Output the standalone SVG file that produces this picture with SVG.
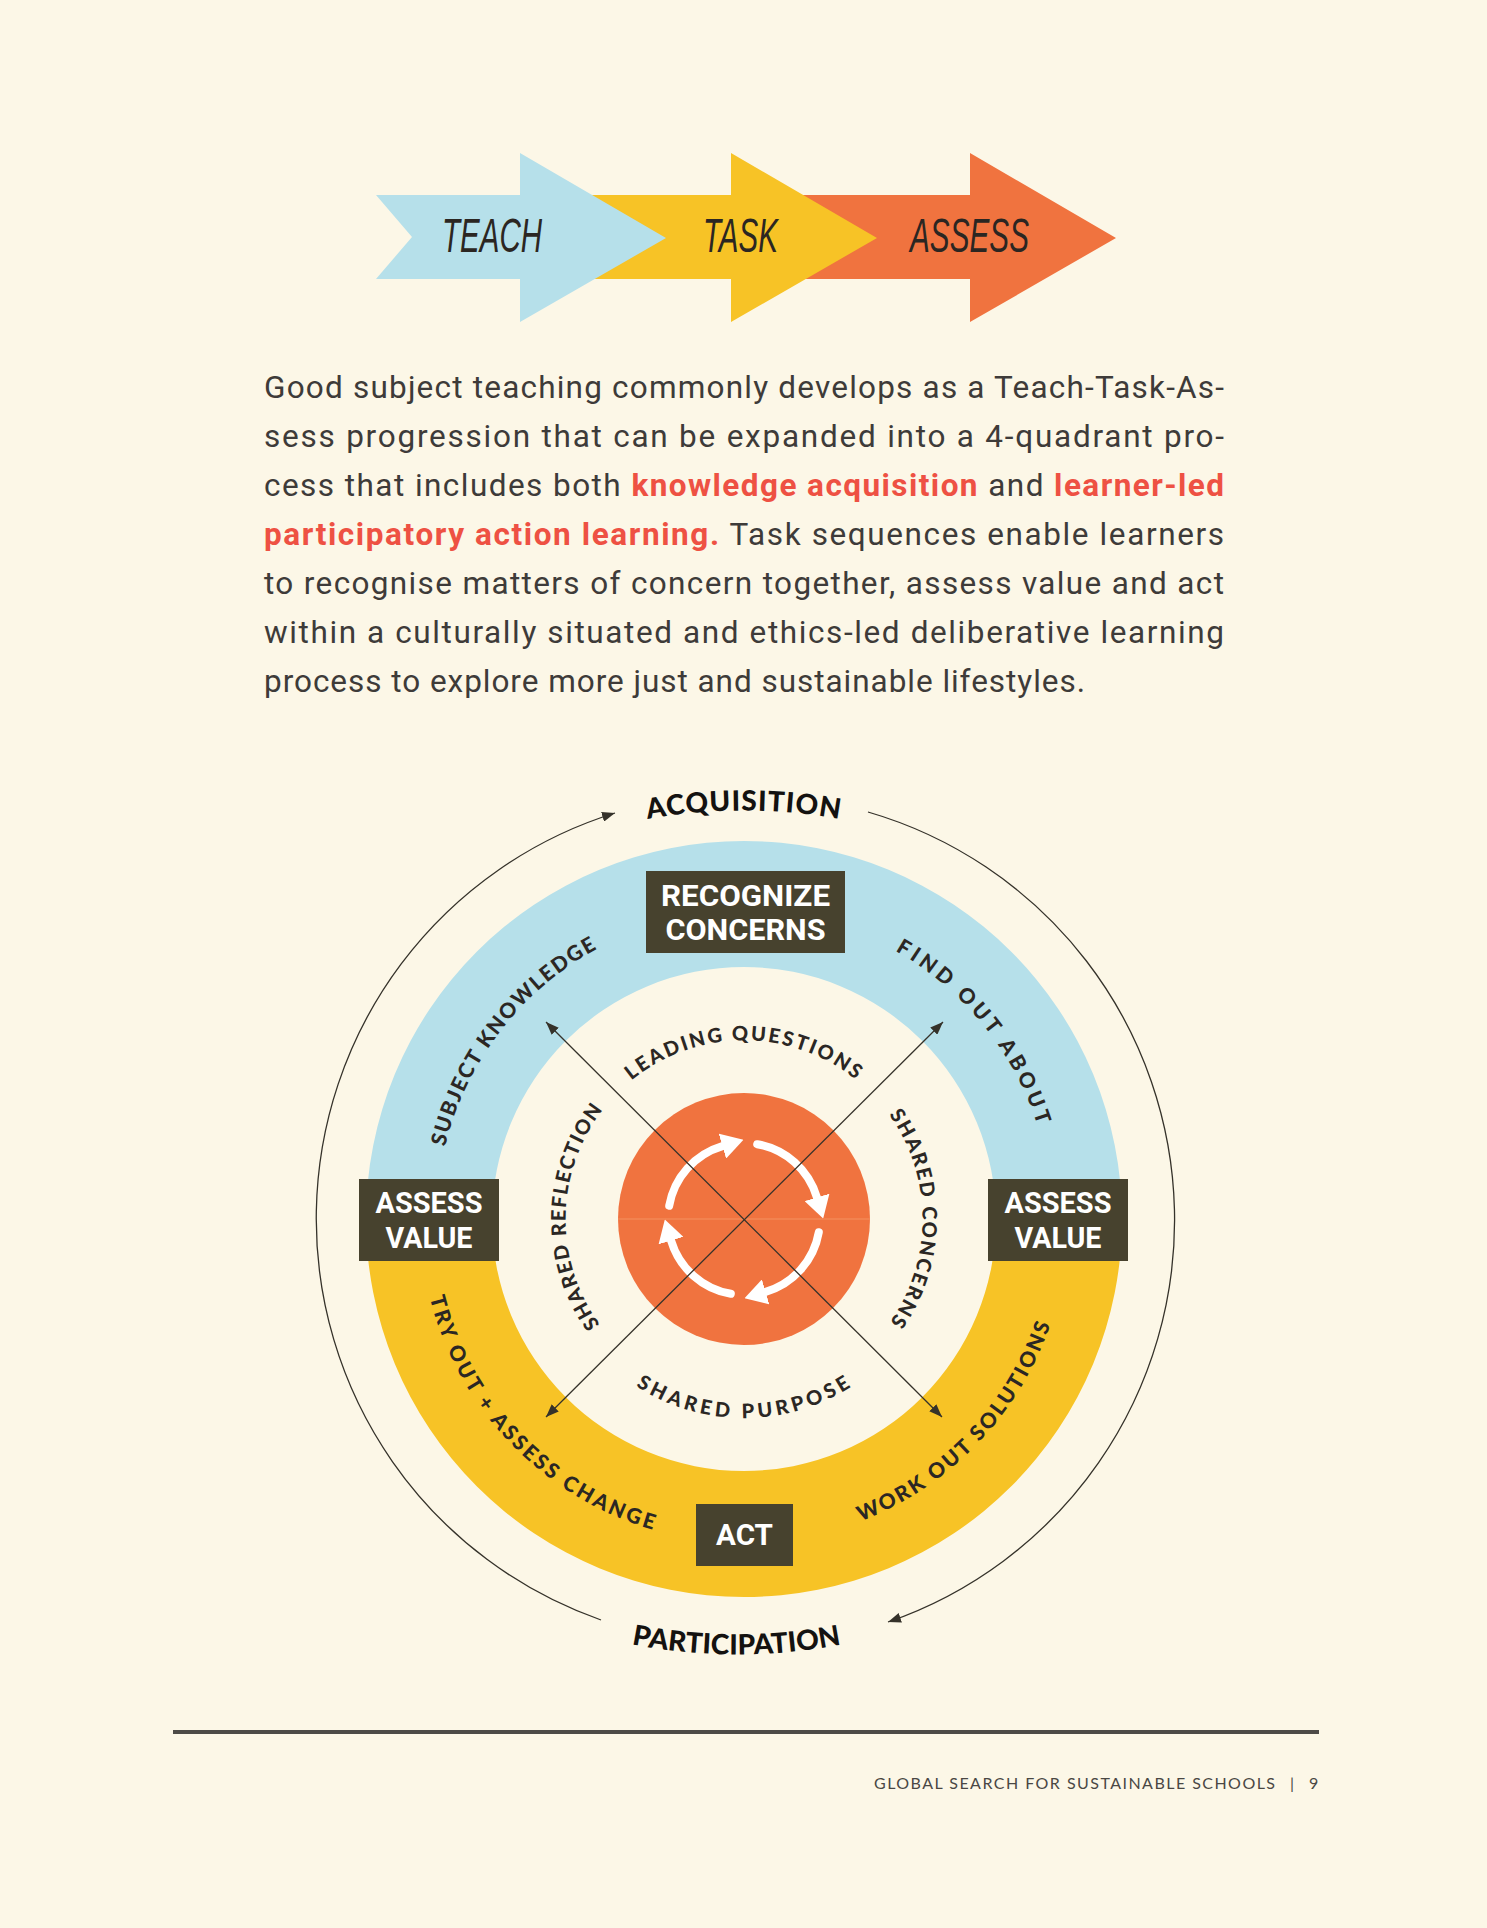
<svg xmlns="http://www.w3.org/2000/svg" width="1487" height="1928" viewBox="0 0 1487 1928">
<defs>
<style>
.ring{font-family:Lato,"Open Sans","Liberation Sans",sans-serif;font-weight:900;font-size:21px;fill:#2b2724;letter-spacing:2px}
.ringi{font-family:Lato,"Open Sans","Liberation Sans",sans-serif;font-weight:900;font-size:20px;fill:#2b2724;letter-spacing:1.5px}
.big{font-family:Lato,"Open Sans","Liberation Sans",sans-serif;font-weight:900;font-size:28px;fill:#141210;letter-spacing:1px}
.box{fill:#47422e}
.boxt{font-family:Roboto,"Liberation Sans",sans-serif;font-weight:700;font-size:29px;fill:#ffffff;text-anchor:middle}
.para{font-family:Roboto,"Open Sans","Liberation Sans",sans-serif;font-size:31.5px;fill:#3e3b39}
.red{fill:#ee5143;font-weight:700}
.hand{font-family:"Liberation Sans Narrow","Liberation Sans",sans-serif;font-style:italic;font-size:48px;fill:#2b2622;text-anchor:middle}
.thin{fill:none;stroke:#35322a;stroke-width:1.3}
.cyc{fill:none;stroke:#ffffff;stroke-width:8;stroke-linecap:round}
</style>
<marker id="ah" viewBox="0 0 13 10" refX="13" refY="5" markerWidth="13" markerHeight="10" markerUnits="userSpaceOnUse" orient="auto-start-reverse"><path d="M0,0 L13,5 L0,10 Z" fill="#35322a"/></marker>
<marker id="wh" viewBox="0 -13 22 26" refX="0" refY="0" markerWidth="22" markerHeight="26" markerUnits="userSpaceOnUse" orient="auto"><path d="M0,-13 L22,0 L0,13 Z" fill="#ffffff"/></marker>
<path id="pSubject" d="M516.6,1426 A307.5,307.5 0 0 1 886.9,946.7"/>
<path id="pFind" d="M594.7,949.6 A308,308 0 0 1 976.4,1421.1"/>
<path id="pTry" d="M481.9,1028.6 A324,324 0 0 0 925.2,1487.6"/>
<path id="pWork" d="M563.8,1488.2 A324,324 0 0 0 1005.5,1027.6"/>
<path id="pLead" d="M568.2,1188 A178.5,178.5 0 0 1 919.8,1188"/>
<path id="pRefl" d="M709.9,1394.2 A178.5,178.5 0 0 1 716.1,1042.7"/>
<path id="pConc" d="M775,1043.2 A178.5,178.5 0 0 1 775,1394.8"/>
<path id="pPurp" d="M548,1253.5 A199,199 0 0 0 940,1253.5"/>
<path id="pAcq" d="M268,1085 A550,550 0 0 1 1220,1085"/>
<path id="pPart" d="M261,1380 A550,550 0 0 0 1213,1380"/>
</defs>

<rect width="1487" height="1928" fill="#fcf7e7"/>

<g id="banner">
  <g id="arrow-assess">
    <path d="M800,195 L970,195 L970,153 L1116,238 L970,322 L970,279 L800,279 Z" fill="#f0733f"/>
    <text class="hand" x="969.5" y="252" textLength="119" lengthAdjust="spacingAndGlyphs">ASSESS</text>
  </g>
  <g id="arrow-task">
    <path d="M560,195 L731,195 L731,153 L877,238 L731,322 L731,279 L560,279 Z" fill="#f7c326"/>
    <text class="hand" x="740.5" y="252" textLength="75" lengthAdjust="spacingAndGlyphs">TASK</text>
  </g>
  <g id="arrow-teach">
    <path d="M376,195 L520,195 L520,153 L666,238 L520,322 L520,279 L376,279 L412,237 Z" fill="#b6e0ea"/>
    <text class="hand" x="492" y="252" textLength="100" lengthAdjust="spacingAndGlyphs">TEACH</text>
  </g>
</g>

<g id="paragraph">
  <text class="para" x="264" y="398" textLength="960" lengthAdjust="spacing">Good subject teaching commonly develops as a Teach-Task-As-</text>
  <text class="para" x="264" y="447" textLength="960" lengthAdjust="spacing">sess progression that can be expanded into a 4-quadrant pro-</text>
  <text class="para" x="264" y="496" textLength="960" lengthAdjust="spacing">cess that includes both <tspan class="red">knowledge acquisition</tspan> and <tspan class="red">learner-led</tspan></text>
  <text class="para" x="264" y="545" textLength="960" lengthAdjust="spacing"><tspan class="red">participatory action learning.</tspan> Task sequences enable learners</text>
  <text class="para" x="264" y="594" textLength="960" lengthAdjust="spacing">to recognise matters of concern together, assess value and act</text>
  <text class="para" x="264" y="643" textLength="960" lengthAdjust="spacing">within a culturally situated and ethics-led deliberative learning</text>
  <text class="para" x="264" y="692" textLength="821" lengthAdjust="spacing">process to explore more just and sustainable lifestyles.</text>
</g>

<g id="rings">
  <path id="ring-blue" d="M366,1219 A378,378 0 0 1 1122,1219 L996,1219 A252,252 0 0 0 492,1219 Z" fill="#b6e0ea"/>
  <path id="ring-yellow" d="M1122,1219 A378,378 0 0 1 366,1219 L492,1219 A252,252 0 0 0 996,1219 Z" fill="#f7c326"/>
</g>

<g id="core">
  <circle cx="744" cy="1219" r="126" fill="#f0733f"/>
  <line x1="618" y1="1219" x2="870" y2="1219" stroke="#f6a070" stroke-width="1" opacity="0.7"/>
  <path class="cyc" d="M818.8,1232.2 A76,76 0 0 1 765.6,1291.9" marker-end="url(#wh)"/>
  <path class="cyc" d="M730.8,1293.8 A76,76 0 0 1 671.1,1240.6" marker-end="url(#wh)"/>
  <path class="cyc" d="M669.2,1205.8 A76,76 0 0 1 722.4,1146.1" marker-end="url(#wh)"/>
  <path class="cyc" d="M757.2,1144.2 A76,76 0 0 1 816.9,1197.4" marker-end="url(#wh)"/>
</g>

<g id="connectors">
  <line class="thin" x1="546" y1="1022" x2="942" y2="1417" marker-start="url(#ah)" marker-end="url(#ah)"/>
  <line class="thin" x1="943" y1="1022" x2="546" y2="1417" marker-start="url(#ah)" marker-end="url(#ah)"/>
  <path class="thin" d="M601,1620 A425,425 0 0 1 615,813" marker-end="url(#ah)"/>
  <path class="thin" d="M868,812 A425,425 0 0 1 888,1622" marker-end="url(#ah)"/>
</g>

<g id="ring-labels">
  <text class="ring"><textPath href="#pSubject" startOffset="50%" text-anchor="middle" textLength="259" lengthAdjust="spacing">SUBJECT KNOWLEDGE</textPath></text>
  <text class="ring"><textPath href="#pFind" startOffset="50%" text-anchor="middle" textLength="232" lengthAdjust="spacing">FIND OUT ABOUT</textPath></text>
  <text class="ring"><textPath href="#pTry" startOffset="50%" text-anchor="middle" textLength="339" lengthAdjust="spacing">TRY OUT + ASSESS CHANGE</textPath></text>
  <text class="ring"><textPath href="#pWork" startOffset="50%" text-anchor="middle" textLength="284" lengthAdjust="spacing">WORK OUT SOLUTIONS</textPath></text>
  <text class="ringi"><textPath href="#pLead" startOffset="50%" text-anchor="middle" textLength="244" lengthAdjust="spacing">LEADING QUESTIONS</textPath></text>
  <text class="ringi"><textPath href="#pRefl" startOffset="50%" text-anchor="middle" textLength="232" lengthAdjust="spacing">SHARED REFLECTION</textPath></text>
  <text class="ringi"><textPath href="#pConc" startOffset="50%" text-anchor="middle" textLength="223" lengthAdjust="spacing">SHARED CONCERNS</textPath></text>
  <text class="ringi"><textPath href="#pPurp" startOffset="50%" text-anchor="middle" textLength="229" lengthAdjust="spacing">SHARED PURPOSE</textPath></text>
</g>

<g id="acquisition"><text class="big"><textPath href="#pAcq" startOffset="50%" text-anchor="middle">ACQUISITION</textPath></text></g>
<g id="participation"><text class="big"><textPath href="#pPart" startOffset="50%" text-anchor="middle" textLength="212" lengthAdjust="spacing">PARTICIPATION</textPath></text></g>

<g id="recognize-concerns">
  <rect class="box" x="646" y="871" width="199" height="82"/>
  <text class="boxt" x="745.5" y="906" textLength="169" lengthAdjust="spacingAndGlyphs">RECOGNIZE</text>
  <text class="boxt" x="745.5" y="940" textLength="160" lengthAdjust="spacingAndGlyphs">CONCERNS</text>
</g>
<g id="assess-value-left">
  <rect class="box" x="359" y="1179" width="140" height="82"/>
  <text class="boxt" x="429" y="1213" textLength="107" lengthAdjust="spacingAndGlyphs">ASSESS</text>
  <text class="boxt" x="429" y="1248" textLength="87" lengthAdjust="spacingAndGlyphs">VALUE</text>
</g>
<g id="assess-value-right">
  <rect class="box" x="988" y="1179" width="140" height="82"/>
  <text class="boxt" x="1058" y="1213" textLength="107" lengthAdjust="spacingAndGlyphs">ASSESS</text>
  <text class="boxt" x="1058" y="1248" textLength="87" lengthAdjust="spacingAndGlyphs">VALUE</text>
</g>
<g id="act">
  <rect class="box" x="696" y="1504" width="97" height="62"/>
  <text class="boxt" x="744.5" y="1545" textLength="57" lengthAdjust="spacingAndGlyphs">ACT</text>
</g>

<g id="footer">
  <line x1="173" y1="1732" x2="1319" y2="1732" stroke="#4d4b47" stroke-width="4"/>
  <text x="874" y="1789" font-family="Lato,'Open Sans',sans-serif" font-size="16" fill="#4a4744" textLength="401" lengthAdjust="spacing">GLOBAL SEARCH FOR SUSTAINABLE SCHOOLS</text>
  <text x="1290" y="1789" font-family="Lato,'Open Sans',sans-serif" font-size="16" fill="#4a4744">|</text>
  <text x="1309" y="1789" font-family="Lato,'Open Sans',sans-serif" font-size="16" fill="#4a4744">9</text>
</g>
</svg>
